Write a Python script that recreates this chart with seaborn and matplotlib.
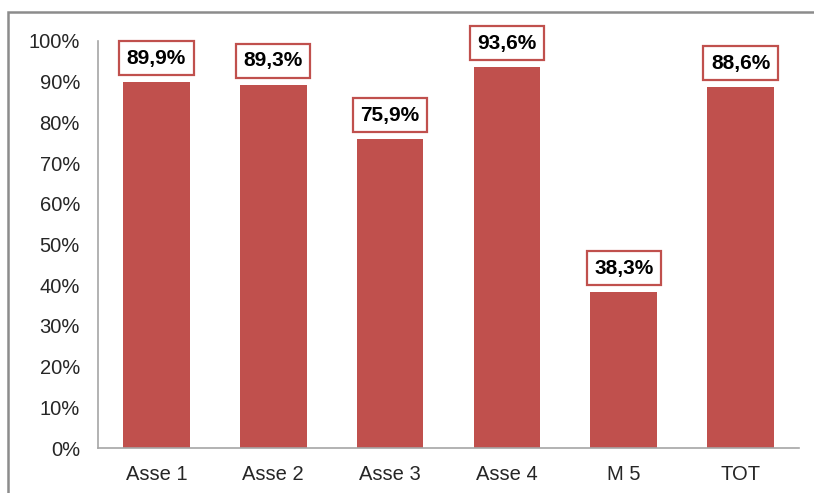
import matplotlib
matplotlib.use("Agg")
import matplotlib.pyplot as plt
import matplotlib.patches as mpatches
import seaborn as sns
import pandas as pd
from matplotlib.ticker import FuncFormatter

categories = ["Asse 1", "Asse 2", "Asse 3", "Asse 4", "M 5", "TOT"]
values = [0.899, 0.893, 0.759, 0.936, 0.383, 0.886]
labels = ["89,9%", "89,3%", "75,9%", "93,6%", "38,3%", "88,6%"]

sns.set_theme(style="white")
plt.rcParams['font.family'] = ['Liberation Sans', 'DejaVu Sans']

bar_color = "#C0504D"
df = pd.DataFrame({"cat": categories, "val": values})

fig = plt.figure(figsize=(8.14, 4.93), dpi=100)
ax = fig.add_axes([98/814, 45/493, 701/814, 407/493])

sns.barplot(data=df, x="cat", y="val", color=bar_color, width=0.57,
            saturation=1, ax=ax, edgecolor="none")

ax.set_ylim(0, 1)
ax.set_xlim(-0.5, len(categories) - 0.5)
ax.set_yticks([i / 10 for i in range(11)])
ax.yaxis.set_major_formatter(FuncFormatter(lambda v, p: f"{int(round(v*100))}%"))
ax.set_xlabel("")
ax.set_ylabel("")
ax.tick_params(axis="both", length=0, labelsize=14.5, colors="#262626")
ax.tick_params(axis="x", pad=12)
ax.tick_params(axis="y", pad=13)
for s in ["top", "right"]:
    ax.spines[s].set_visible(False)
for s in ["left", "bottom"]:
    ax.spines[s].set_color("#A6A6A6")
    ax.spines[s].set_linewidth(1.2)

for i, (v, lab) in enumerate(zip(values, labels)):
    ax.annotate(lab, xy=(i, v), xytext=(0, 17.3), textcoords="offset points",
                ha="center", va="center", fontsize=15, fontweight="bold",
                color="black",
                bbox=dict(boxstyle="square,pad=0.36", facecolor="white",
                          edgecolor=bar_color, linewidth=1.6))

# outer chart frame (clipped at right and bottom)
frame = mpatches.Rectangle((8/814, -0.1), 1.2, (493 - 12)/493 + 0.1,
                           transform=fig.transFigure, fill=False,
                           edgecolor="#8C8C8C", linewidth=1.8, clip_on=False)
fig.patches.append(frame)

fig.savefig("out.png", dpi=100)
